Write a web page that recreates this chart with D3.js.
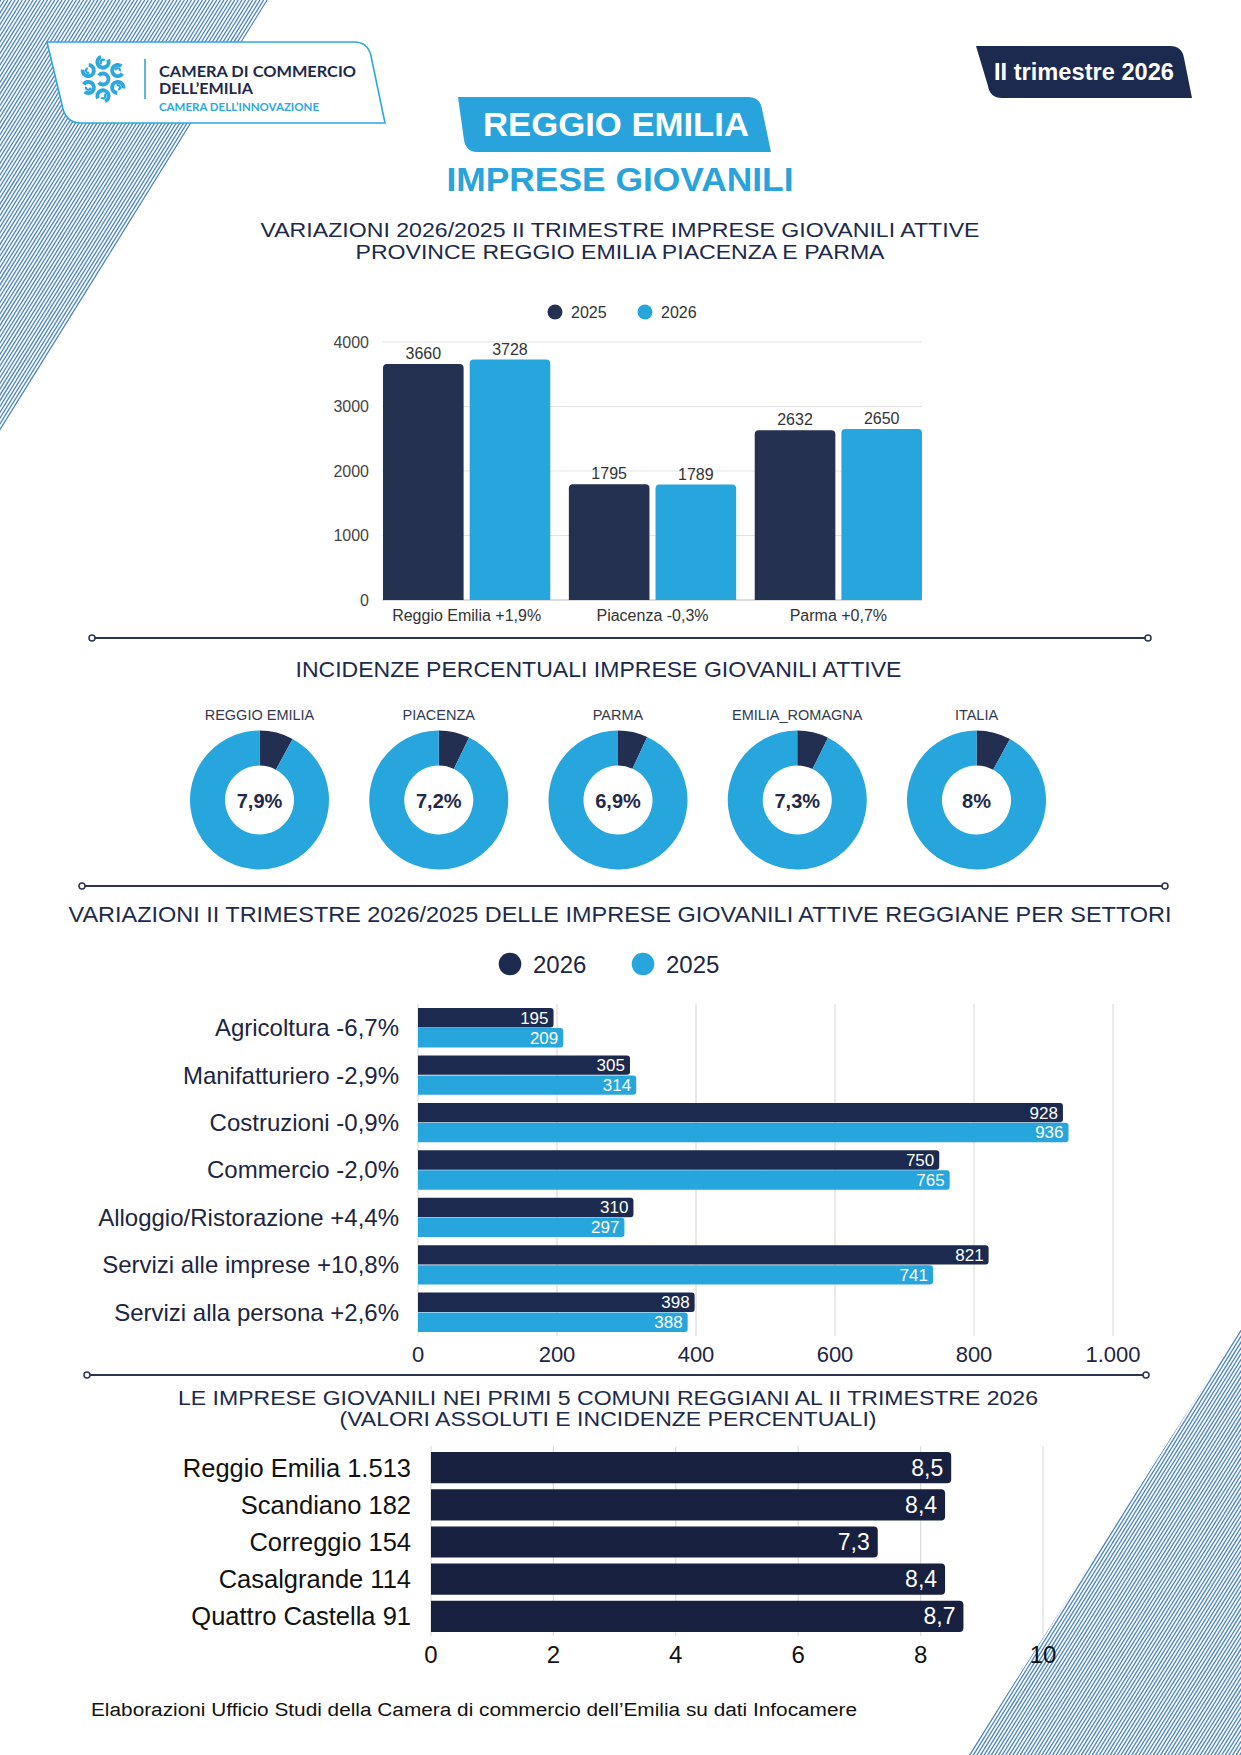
<!DOCTYPE html>
<html><head><meta charset="utf-8">
<script src="https://cdn.jsdelivr.net/npm/d3@7"></script>
<style>
html,body{margin:0;padding:0;background:#fff;}
svg{display:block;font-family:"Liberation Sans",Arial,sans-serif;}
</style></head>
<body>
<svg id="page" width="1241" height="1755"></svg>
<script>
// ---------- DATA ----------
const provinces = ["Reggio Emilia +1,9%", "Piacenza -0,3%", "Parma +0,7%"];
const years1 = ["2025", "2026"];
const values2025 = [3660, 1795, 2632];
const values2026 = [3728, 1789, 2650];
const yTicks1 = [0, 1000, 2000, 3000, 4000];

const donutNames = ["REGGIO EMILIA", "PIACENZA", "PARMA", "EMILIA_ROMAGNA", "ITALIA"];
const donutValues = [7.9, 7.2, 6.9, 7.3, 8];

const sectors = ["Agricoltura -6,7%", "Manifatturiero -2,9%", "Costruzioni -0,9%", "Commercio -2,0%",
  "Alloggio/Ristorazione +4,4%", "Servizi alle imprese +10,8%", "Servizi alla persona +2,6%"];
const years3 = ["2026", "2025"];
const sector2026 = [195, 305, 928, 750, 310, 821, 398];
const sector2025 = [209, 314, 936, 765, 297, 741, 388];
const xTicks3 = [0, 200, 400, 600, 800, 1000];

const comuni = ["Reggio Emilia", "Scandiano", "Correggio", "Casalgrande", "Quattro Castella"];
const comuniImprese = [1513, 182, 154, 114, 91];
const comuniIncidenza = [8.5, 8.4, 7.3, 8.4, 8.7];
const xTicks4 = [0, 2, 4, 6, 8, 10];

// ---------- SETUP ----------
const it = d3.formatLocale({decimal: ",", thousands: ".", grouping: [3], currency: ["", "€"]});
const fmtInt = it.format(",d");
const fmtDec = v => String(v).replace(".", ",");

const NAVY = "#1d2a4a", DARK1 = "#253151", LIGHT = "#27a5dd", DARK3 = "#1c2a4f", DARK4 = "#17203f";
const svg = d3.select("#page");
svg.append("rect").attr("width", 1241).attr("height", 1755).attr("fill", "#fff");

// ---------- DECORATIVE STRIPES ----------
const defs = svg.append("defs");
defs.append("clipPath").attr("id", "clipTL").append("path").attr("d", "M0,0 L268,0 L0,432 Z");
defs.append("clipPath").attr("id", "clipBR").append("path").attr("d", "M1241,1328 L1241,1755 L968,1755 Z");
const slope = 0.622;
const gTL = svg.append("g").attr("clip-path", "url(#clipTL)");
gTL.selectAll("line").data(d3.range(-10, 560, 3.6)).join("line")
  .attr("x1", c => c).attr("y1", 0).attr("x2", c => c - slope * 460).attr("y2", 460)
  .attr("stroke", "#4f86c2").attr("stroke-width", 1.35);
const gBR = svg.append("g").attr("clip-path", "url(#clipBR)");
gBR.selectAll("line").data(d3.range(900, 1600, 3.6)).join("line")
  .attr("x1", c => c).attr("y1", 1300).attr("x2", c => c - slope * 460).attr("y2", 1760)
  .attr("stroke", "#4f86c2").attr("stroke-width", 1.35);

// ---------- HEADER ----------
svg.append("path").attr("d", "M47,42 L354,42 Q368,42 371,56 L385,123 L81,123 Q67,123 63,109 Z")
  .attr("fill", "#fff").attr("stroke", "#2ea7e0").attr("stroke-width", 1.6);
// logo swirl icon
const logo = svg.append("g").attr("transform", "translate(103,79)");
const swirl = d3.arc().innerRadius(3.6).outerRadius(7.6).startAngle(0.6).endAngle(5.4);
const tail = d3.arc().innerRadius(1.2).outerRadius(3.4).startAngle(3.2).endAngle(6.6);
d3.range(6).forEach(i => {
  const a = i * Math.PI / 3 - Math.PI / 2;
  const t = `translate(${17 * Math.cos(a)},${17 * Math.sin(a)}) rotate(${i * 60 + 30})`;
  logo.append("path").attr("d", swirl()).attr("transform", t).attr("fill", "#2ea7e0");
  logo.append("path").attr("d", tail()).attr("transform", t).attr("fill", "#2ea7e0");
});
logo.append("path").attr("d", d3.arc().innerRadius(3.6).outerRadius(7.4).startAngle(0.7).endAngle(5.6)())
  .attr("transform", "rotate(-90)").attr("fill", "#2ea7e0");
svg.append("line").attr("x1", 145).attr("x2", 145).attr("y1", 59).attr("y2", 99)
  .attr("stroke", "#2ea7e0").attr("stroke-width", 1.6);
const logoFont = "Lato,'Open Sans',sans-serif";
svg.append("text").attr("x", 159).attr("y", 77).attr("font-family", logoFont).attr("font-weight", 700)
  .attr("font-size", 16).attr("fill", NAVY).attr("textLength", 197).attr("lengthAdjust", "spacingAndGlyphs")
  .text("CAMERA DI COMMERCIO");
svg.append("text").attr("x", 159).attr("y", 94).attr("font-family", logoFont).attr("font-weight", 700)
  .attr("font-size", 16).attr("fill", NAVY).attr("textLength", 94).attr("lengthAdjust", "spacingAndGlyphs")
  .text("DELL’EMILIA");
svg.append("text").attr("x", 159).attr("y", 111).attr("font-family", logoFont).attr("font-weight", 700)
  .attr("font-size", 11.5).attr("fill", "#2ea7e0").attr("textLength", 160).attr("lengthAdjust", "spacingAndGlyphs")
  .text("CAMERA DELL’INNOVAZIONE");

svg.append("path").attr("d", "M976,46 L1170,46 Q1182,46 1184,58 L1192,98 L1002,98 Q990,98 988,86 Z")
  .attr("fill", "#1b2a4e");
svg.append("text").attr("x", 1084).attr("y", 80).attr("text-anchor", "middle").attr("font-weight", 700)
  .attr("font-size", 23).attr("fill", "#fff").attr("textLength", 180).attr("lengthAdjust", "spacingAndGlyphs")
  .text("II trimestre 2026");

svg.append("path").attr("d", "M458,97 L748,97 Q760,97 762,109 L771,152 L477,152 Q466,152 464,140 Z")
  .attr("fill", "#29a3dc");
svg.append("text").attr("x", 616).attr("y", 136).attr("text-anchor", "middle").attr("font-weight", 700)
  .attr("font-size", 34).attr("fill", "#fff").attr("textLength", 266).attr("lengthAdjust", "spacingAndGlyphs")
  .text("REGGIO EMILIA");
svg.append("text").attr("x", 620).attr("y", 191).attr("text-anchor", "middle").attr("font-weight", 700)
  .attr("font-size", 34).attr("fill", "#29a3dc").attr("textLength", 347).attr("lengthAdjust", "spacingAndGlyphs")
  .text("IMPRESE GIOVANILI");

function title(x, y, txt, len, size = 22) {
  svg.append("text").attr("x", x).attr("y", y).attr("text-anchor", "middle")
    .attr("font-size", size).attr("fill", NAVY).attr("textLength", len).attr("lengthAdjust", "spacingAndGlyphs")
    .text(txt);
}

// ---------- CHART 1: grouped vertical bars ----------
title(620, 237, "VARIAZIONI 2026/2025 II TRIMESTRE IMPRESE GIOVANILI ATTIVE", 719, 21);
title(620, 259, "PROVINCE REGGIO EMILIA PIACENZA E PARMA", 529, 21);

const c1Colors = d3.scaleOrdinal().domain(years1).range([DARK1, LIGHT]);
[[555, "2025"], [645, "2026"]].forEach(([x, y]) => {
  svg.append("circle").attr("cx", x).attr("cy", 312).attr("r", 7.5).attr("fill", c1Colors(y));
  svg.append("text").attr("x", x + 16).attr("y", 318).attr("font-size", 16).attr("fill", "#333").text(y);
});

const x1 = d3.scaleBand().domain(provinces).range([383, 922]).paddingInner(0.1).paddingOuter(0);
const x1in = d3.scaleBand().domain(years1).range([0, x1.bandwidth()]).paddingInner(0.07);
const y1 = d3.scaleLinear().domain([0, 4000]).range([600, 342]);
const g1 = svg.append("g");
g1.selectAll(".grid").data(yTicks1).join("line")
  .attr("x1", 382).attr("x2", 922).attr("y1", d => y1(d)).attr("y2", d => y1(d))
  .attr("stroke", d => d === 0 ? "#bbb" : "#e3e3e3").attr("stroke-width", 1.2);
g1.selectAll(".yt").data(yTicks1).join("text")
  .attr("x", 369).attr("y", d => y1(d)).attr("dy", "0.35em").attr("text-anchor", "end")
  .attr("font-size", 16).attr("fill", "#444").text(d => d);

function vBar(x, y, w, h, r) {
  r = Math.min(r, h, w / 2);
  return `M${x},${y + h} L${x},${y + r} Q${x},${y} ${x + r},${y} L${x + w - r},${y} Q${x + w},${y} ${x + w},${y + r} L${x + w},${y + h} Z`;
}
function hBar(x, y, w, h, r) {
  r = Math.min(r, w, h / 2);
  return `M${x},${y} L${x + w - r},${y} Q${x + w},${y} ${x + w},${y + r} L${x + w},${y + h - r} Q${x + w},${y + h} ${x + w - r},${y + h} L${x},${y + h} Z`;
}
const rows1 = provinces.map((p, i) => ({p, vals: [{k: "2025", v: values2025[i]}, {k: "2026", v: values2026[i]}]}));
const grp1 = g1.selectAll(".grp").data(rows1).join("g").attr("transform", d => `translate(${x1(d.p)},0)`);
grp1.selectAll("path").data(d => d.vals).join("path")
  .attr("d", d => vBar(x1in(d.k), y1(d.v), x1in.bandwidth(), y1(0) - y1(d.v), 4))
  .attr("fill", d => c1Colors(d.k));
grp1.selectAll("text").data(d => d.vals).join("text")
  .attr("x", d => x1in(d.k) + x1in.bandwidth() / 2).attr("y", d => y1(d.v) - 5)
  .attr("text-anchor", "middle").attr("font-size", 16).attr("fill", "#333").text(d => d.v);
g1.selectAll(".xl").data(provinces).join("text")
  .attr("x", d => x1(d) + x1.bandwidth() / 2).attr("y", 621).attr("text-anchor", "middle")
  .attr("font-size", 16).attr("fill", "#333").text(d => d);

// ---------- SEPARATORS ----------
[[638, 92, 1148], [886, 82, 1165], [1375, 87, 1146]].forEach(([y, a, b]) => {
  svg.append("line").attr("x1", a).attr("x2", b).attr("y1", y).attr("y2", y)
    .attr("stroke", "#2b3553").attr("stroke-width", 2);
  [a, b].forEach(x => svg.append("circle").attr("cx", x).attr("cy", y).attr("r", 3)
    .attr("fill", "#fff").attr("stroke", "#2b3553").attr("stroke-width", 1.5));
});

// ---------- CHART 2: donuts ----------
title(598.5, 677, "INCIDENZE PERCENTUALI IMPRESE GIOVANILI ATTIVE", 606);
const pie = d3.pie().sort(null).value(d => d);
const arc = d3.arc().innerRadius(34.5).outerRadius(69.5);
const dx = d3.scalePoint().domain(donutNames).range([259.5, 976.5]);
donutNames.forEach((n, i) => {
  const g = svg.append("g").attr("transform", `translate(${dx(n)},800)`);
  g.selectAll("path").data(pie([donutValues[i], 100 - donutValues[i]])).join("path")
    .attr("d", arc).attr("fill", (d, j) => j === 0 ? "#232f50" : LIGHT);
  g.append("text").attr("y", -80).attr("text-anchor", "middle").attr("font-size", 14.5)
    .attr("fill", "#333a4d").text(n);
  g.append("text").attr("y", 8).attr("text-anchor", "middle").attr("font-size", 20).attr("font-weight", 700)
    .attr("fill", "#1f2a4a").text(fmtDec(donutValues[i]) + "%");
});

// ---------- CHART 3: horizontal grouped bars ----------
title(620, 922, "VARIAZIONI II TRIMESTRE 2026/2025 DELLE IMPRESE GIOVANILI ATTIVE REGGIANE PER SETTORI", 1103);
const c3Colors = d3.scaleOrdinal().domain(years3).range([DARK3, LIGHT]);
[[510, "2026"], [643, "2025"]].forEach(([x, y]) => {
  svg.append("circle").attr("cx", x).attr("cy", 964).attr("r", 11.3).attr("fill", c3Colors(y));
  svg.append("text").attr("x", x + 23).attr("y", 973).attr("font-size", 24).attr("fill", "#1d2540").text(y);
});
const x3 = d3.scaleLinear().domain([0, 1000]).range([418, 1113]);
const y3 = d3.scaleBand().domain(sectors).range([1004, 1336]).paddingInner(0.17).paddingOuter(0.085);
const y3in = d3.scaleBand().domain(years3).range([0, y3.bandwidth()]).paddingInner(0.03);
const g3 = svg.append("g");
g3.selectAll(".grid").data(xTicks3).join("line")
  .attr("x1", d => x3(d)).attr("x2", d => x3(d)).attr("y1", 1004).attr("y2", 1336)
  .attr("stroke", "#dcdcdc").attr("stroke-width", 1.2);
g3.selectAll(".xt").data(xTicks3).join("text")
  .attr("x", d => x3(d)).attr("y", 1362).attr("text-anchor", "middle").attr("font-size", 22)
  .attr("fill", "#1d2540").text(d => fmtInt(d));
const rows3 = sectors.map((s, i) => ({s, vals: [{k: "2026", v: sector2026[i]}, {k: "2025", v: sector2025[i]}]}));
const grp3 = g3.selectAll(".grp").data(rows3).join("g").attr("transform", d => `translate(0,${y3(d.s)})`);
grp3.selectAll("path").data(d => d.vals).join("path")
  .attr("d", d => hBar(x3(0), y3in(d.k), x3(d.v) - x3(0), y3in.bandwidth(), 3))
  .attr("fill", d => c3Colors(d.k));
grp3.selectAll("text").data(d => d.vals).join("text")
  .attr("x", d => x3(d.v) - 5).attr("y", d => y3in(d.k) + y3in.bandwidth() / 2).attr("dy", "0.35em")
  .attr("text-anchor", "end").attr("font-size", 17).attr("fill", "#fff").text(d => d.v);
g3.selectAll(".yl").data(sectors).join("text")
  .attr("x", 399).attr("y", d => y3(d) + y3.bandwidth() / 2).attr("dy", "0.35em")
  .attr("text-anchor", "end").attr("font-size", 24).attr("fill", "#1d2540").text(d => d);

// ---------- CHART 4: comuni ----------
title(608, 1405, "LE IMPRESE GIOVANILI NEI PRIMI 5 COMUNI REGGIANI AL II TRIMESTRE 2026", 860, 20);
title(608, 1426, "(VALORI ASSOLUTI E INCIDENZE PERCENTUALI)", 537, 20);
const labels4 = comuni.map((c, i) => c + " " + fmtInt(comuniImprese[i]));
const x4 = d3.scaleLinear().domain([0, 10]).range([431, 1043]);
const y4 = d3.scaleBand().domain(labels4).range([1449, 1635]).paddingInner(0.16).paddingOuter(0.08);
const g4 = svg.append("g");
g4.selectAll(".grid").data(xTicks4).join("line")
  .attr("x1", d => x4(d)).attr("x2", d => x4(d)).attr("y1", 1446).attr("y2", 1636)
  .attr("stroke", "#dcdcdc").attr("stroke-width", 1.2);
g4.selectAll(".xt").data(xTicks4).join("text")
  .attr("x", d => x4(d)).attr("y", 1663).attr("text-anchor", "middle").attr("font-size", 24)
  .attr("fill", "#111").text(d => d);
const rows4 = labels4.map((l, i) => ({l, v: comuniIncidenza[i]}));
g4.selectAll(".bar").data(rows4).join("path")
  .attr("d", d => hBar(x4(0), y4(d.l), x4(d.v) - x4(0), y4.bandwidth(), 4)).attr("fill", DARK4);
g4.selectAll(".val").data(rows4).join("text")
  .attr("x", d => x4(d.v) - 8).attr("y", d => y4(d.l) + y4.bandwidth() / 2).attr("dy", "0.35em")
  .attr("text-anchor", "end").attr("font-size", 23).attr("fill", "#fff").text(d => fmtDec(d.v));
g4.selectAll(".yl").data(labels4).join("text")
  .attr("x", 411).attr("y", d => y4(d) + y4.bandwidth() / 2).attr("dy", "0.35em")
  .attr("text-anchor", "end").attr("font-size", 25.5).attr("fill", "#111").text(d => d);

// ---------- FOOTER ----------
svg.append("text").attr("x", 91).attr("y", 1716).attr("font-size", 18).attr("fill", "#111")
  .attr("textLength", 766).attr("lengthAdjust", "spacingAndGlyphs")
  .text("Elaborazioni Ufficio Studi della Camera di commercio dell’Emilia su dati Infocamere");
</script>
</body></html>
